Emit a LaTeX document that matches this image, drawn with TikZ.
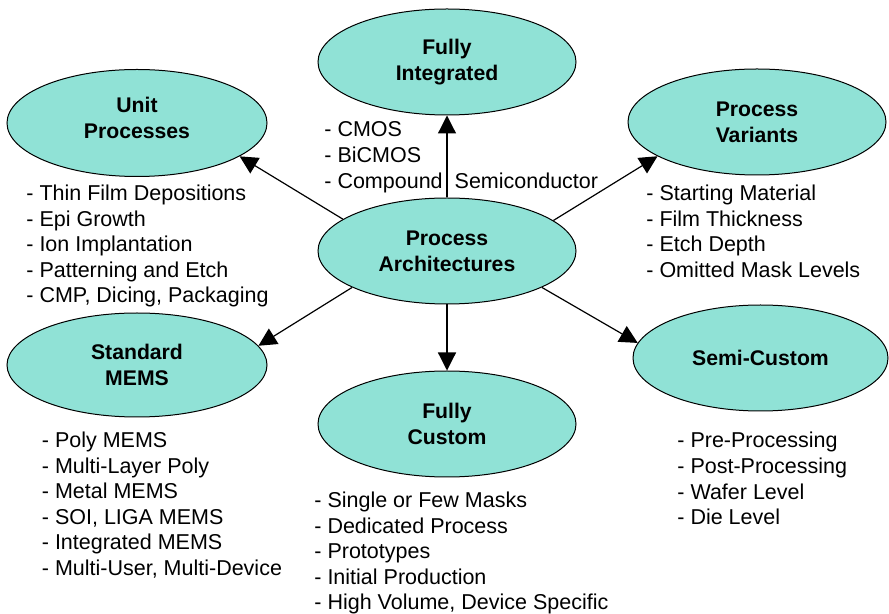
\documentclass[tikz,border=0pt]{standalone}
\usepackage{fontspec}
\setmainfont{Liberation Sans}
\usetikzlibrary{shapes.geometric,arrows.meta}
\definecolor{tealfill}{RGB}{144,226,214}
\begin{document}
\begin{tikzpicture}[x=0.5pt,y=-0.5pt,
  bubble/.style={ellipse,draw=black,line width=0.5pt,fill=tealfill,inner sep=0pt,
     minimum width=129pt,minimum height=53pt,align=center,
     font=\fontsize{10.6}{13}\selectfont\bfseries},
  listtext/.style={anchor=north west,inner sep=0pt,align=left,
     font=\fontsize{10.75}{12.8}\selectfont},
  arr/.style={line width=0.6pt,-{Triangle[length=9pt,width=9pt]}}]
\useasboundingbox (0,0) rectangle (889,614);
% bubbles
\node[bubble] (C)  at (447,251) {Process\\Architectures};
\node[bubble] (FI) at (447,62)  {Fully\\Integrated};
\node[bubble] (FC) at (447,424) {Fully\\Custom};
\node[bubble,minimum width=130pt,minimum height=53.5pt,text depth=5.5pt] (U) at (137,123) {Unit\\Processes};
\node[bubble] (V)  at (757,122) {Process\\Variants};
\node[bubble,minimum width=130pt,minimum height=52pt] (M) at (137,365) {Standard\\MEMS};
\node[bubble,minimum width=127.5pt] (S) at (760.5,358) {Semi-Custom};
% connectors
\draw[arr] (C.north) -- (FI.south);
\draw[arr] (C.south) -- (FC.north);
\draw[arr] (C.163) -- (U.-18);
\draw[arr] (C.16.8) -- (V.199.5);
\draw[arr] (C.201.5) -- (M.9.9);
\draw[arr] (C.-21.7) -- (S.173);
% lists
\node[listtext] (lfi) at (324,121.5) {- CMOS\\- BiCMOS\\- Compound\hspace{6pt}Semiconductor};
\node[listtext] (lu) at (26,184.5) {- Thin Film Depositions\\- Epi Growth\\- Ion Implantation\\- Patterning and Etch\\- CMP, Dicing, Packaging};
\node[listtext] (lv) at (646,184.5) {- Starting Material\\- Film Thickness\\- Etch Depth\\- Omitted Mask Levels};
\node[listtext] (lm) at (41.5,431.5) {- Poly MEMS\\- Multi-Layer Poly\\- Metal MEMS\\- SOI, LIGA MEMS\\- Integrated MEMS\\- Multi-User, Multi-Device};
\node[listtext] (ls) at (677,432) {- Pre-Processing\\- Post-Processing\\- Wafer Level\\- Die Level};
\node[listtext] (lc) at (314,491.5) {- Single or Few Masks\\- Dedicated Process\\- Prototypes\\- Initial Production\\- High Volume, Device Specific};
\end{tikzpicture}
\end{document}
